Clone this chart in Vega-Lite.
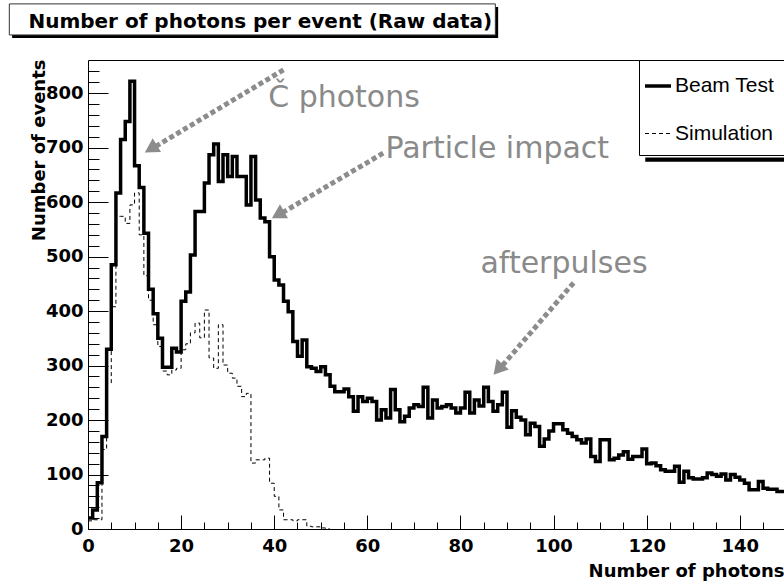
{
  "$schema": "https://vega.github.io/schema/vega-lite/v6.json",
  "autosize": {"type": "none"},
  "width": 696,
  "height": 469,
  "padding": {"left": 88, "top": 60, "right": 0, "bottom": 57},
  "background": "white",
  "view": {"stroke": null},
  "config": {
    "font": "DejaVu Sans",
    "axis": {"domainColor": "#000", "tickColor": "#000", "grid": false, "labelColor": "#000", "titleColor": "#000"}
  },
  "datasets": {
    "hist": [
      {"series": "Beam Test", "photons": 0, "events": 20},
      {"series": "Beam Test", "photons": 1, "events": 35},
      {"series": "Beam Test", "photons": 2, "events": 85},
      {"series": "Beam Test", "photons": 3, "events": 170},
      {"series": "Beam Test", "photons": 4, "events": 330},
      {"series": "Beam Test", "photons": 5, "events": 485},
      {"series": "Beam Test", "photons": 6, "events": 617},
      {"series": "Beam Test", "photons": 7, "events": 715},
      {"series": "Beam Test", "photons": 8, "events": 748},
      {"series": "Beam Test", "photons": 9, "events": 822},
      {"series": "Beam Test", "photons": 10, "events": 667},
      {"series": "Beam Test", "photons": 11, "events": 627},
      {"series": "Beam Test", "photons": 12, "events": 543},
      {"series": "Beam Test", "photons": 13, "events": 440},
      {"series": "Beam Test", "photons": 14, "events": 395},
      {"series": "Beam Test", "photons": 15, "events": 350},
      {"series": "Beam Test", "photons": 16, "events": 297},
      {"series": "Beam Test", "photons": 17, "events": 297},
      {"series": "Beam Test", "photons": 18, "events": 332},
      {"series": "Beam Test", "photons": 19, "events": 325},
      {"series": "Beam Test", "photons": 20, "events": 418},
      {"series": "Beam Test", "photons": 21, "events": 435},
      {"series": "Beam Test", "photons": 22, "events": 503},
      {"series": "Beam Test", "photons": 23, "events": 583},
      {"series": "Beam Test", "photons": 24, "events": 583},
      {"series": "Beam Test", "photons": 25, "events": 635},
      {"series": "Beam Test", "photons": 26, "events": 687},
      {"series": "Beam Test", "photons": 27, "events": 707},
      {"series": "Beam Test", "photons": 28, "events": 638},
      {"series": "Beam Test", "photons": 29, "events": 687},
      {"series": "Beam Test", "photons": 30, "events": 647},
      {"series": "Beam Test", "photons": 31, "events": 684},
      {"series": "Beam Test", "photons": 32, "events": 647},
      {"series": "Beam Test", "photons": 33, "events": 647},
      {"series": "Beam Test", "photons": 34, "events": 595},
      {"series": "Beam Test", "photons": 35, "events": 684},
      {"series": "Beam Test", "photons": 36, "events": 604},
      {"series": "Beam Test", "photons": 37, "events": 571},
      {"series": "Beam Test", "photons": 38, "events": 564},
      {"series": "Beam Test", "photons": 39, "events": 500},
      {"series": "Beam Test", "photons": 40, "events": 457},
      {"series": "Beam Test", "photons": 41, "events": 448},
      {"series": "Beam Test", "photons": 42, "events": 418},
      {"series": "Beam Test", "photons": 43, "events": 399},
      {"series": "Beam Test", "photons": 44, "events": 344},
      {"series": "Beam Test", "photons": 45, "events": 317},
      {"series": "Beam Test", "photons": 46, "events": 347},
      {"series": "Beam Test", "photons": 47, "events": 298},
      {"series": "Beam Test", "photons": 48, "events": 295},
      {"series": "Beam Test", "photons": 49, "events": 289},
      {"series": "Beam Test", "photons": 50, "events": 298},
      {"series": "Beam Test", "photons": 51, "events": 283},
      {"series": "Beam Test", "photons": 52, "events": 262},
      {"series": "Beam Test", "photons": 53, "events": 252},
      {"series": "Beam Test", "photons": 54, "events": 252},
      {"series": "Beam Test", "photons": 55, "events": 257},
      {"series": "Beam Test", "photons": 56, "events": 243},
      {"series": "Beam Test", "photons": 57, "events": 216},
      {"series": "Beam Test", "photons": 58, "events": 243},
      {"series": "Beam Test", "photons": 59, "events": 234},
      {"series": "Beam Test", "photons": 60, "events": 240},
      {"series": "Beam Test", "photons": 61, "events": 234},
      {"series": "Beam Test", "photons": 62, "events": 200},
      {"series": "Beam Test", "photons": 63, "events": 219},
      {"series": "Beam Test", "photons": 64, "events": 204},
      {"series": "Beam Test", "photons": 65, "events": 256},
      {"series": "Beam Test", "photons": 66, "events": 219},
      {"series": "Beam Test", "photons": 67, "events": 197},
      {"series": "Beam Test", "photons": 68, "events": 207},
      {"series": "Beam Test", "photons": 69, "events": 222},
      {"series": "Beam Test", "photons": 70, "events": 228},
      {"series": "Beam Test", "photons": 71, "events": 225},
      {"series": "Beam Test", "photons": 72, "events": 260},
      {"series": "Beam Test", "photons": 73, "events": 204},
      {"series": "Beam Test", "photons": 74, "events": 237},
      {"series": "Beam Test", "photons": 75, "events": 222},
      {"series": "Beam Test", "photons": 76, "events": 225},
      {"series": "Beam Test", "photons": 77, "events": 228},
      {"series": "Beam Test", "photons": 78, "events": 222},
      {"series": "Beam Test", "photons": 79, "events": 213},
      {"series": "Beam Test", "photons": 80, "events": 222},
      {"series": "Beam Test", "photons": 81, "events": 251},
      {"series": "Beam Test", "photons": 82, "events": 213},
      {"series": "Beam Test", "photons": 83, "events": 237},
      {"series": "Beam Test", "photons": 84, "events": 226},
      {"series": "Beam Test", "photons": 85, "events": 260},
      {"series": "Beam Test", "photons": 86, "events": 234},
      {"series": "Beam Test", "photons": 87, "events": 216},
      {"series": "Beam Test", "photons": 88, "events": 228},
      {"series": "Beam Test", "photons": 89, "events": 251},
      {"series": "Beam Test", "photons": 90, "events": 187},
      {"series": "Beam Test", "photons": 91, "events": 217},
      {"series": "Beam Test", "photons": 92, "events": 205},
      {"series": "Beam Test", "photons": 93, "events": 200},
      {"series": "Beam Test", "photons": 94, "events": 173},
      {"series": "Beam Test", "photons": 95, "events": 194},
      {"series": "Beam Test", "photons": 96, "events": 188},
      {"series": "Beam Test", "photons": 97, "events": 152},
      {"series": "Beam Test", "photons": 98, "events": 165},
      {"series": "Beam Test", "photons": 99, "events": 180},
      {"series": "Beam Test", "photons": 100, "events": 193},
      {"series": "Beam Test", "photons": 101, "events": 193},
      {"series": "Beam Test", "photons": 102, "events": 182},
      {"series": "Beam Test", "photons": 103, "events": 176},
      {"series": "Beam Test", "photons": 104, "events": 170},
      {"series": "Beam Test", "photons": 105, "events": 164},
      {"series": "Beam Test", "photons": 106, "events": 158},
      {"series": "Beam Test", "photons": 107, "events": 165},
      {"series": "Beam Test", "photons": 108, "events": 133},
      {"series": "Beam Test", "photons": 109, "events": 124},
      {"series": "Beam Test", "photons": 110, "events": 164},
      {"series": "Beam Test", "photons": 111, "events": 164},
      {"series": "Beam Test", "photons": 112, "events": 127},
      {"series": "Beam Test", "photons": 113, "events": 130},
      {"series": "Beam Test", "photons": 114, "events": 136},
      {"series": "Beam Test", "photons": 115, "events": 142},
      {"series": "Beam Test", "photons": 116, "events": 128},
      {"series": "Beam Test", "photons": 117, "events": 133},
      {"series": "Beam Test", "photons": 118, "events": 133},
      {"series": "Beam Test", "photons": 119, "events": 147},
      {"series": "Beam Test", "photons": 120, "events": 120},
      {"series": "Beam Test", "photons": 121, "events": 121},
      {"series": "Beam Test", "photons": 122, "events": 116},
      {"series": "Beam Test", "photons": 123, "events": 109},
      {"series": "Beam Test", "photons": 124, "events": 106},
      {"series": "Beam Test", "photons": 125, "events": 106},
      {"series": "Beam Test", "photons": 126, "events": 115},
      {"series": "Beam Test", "photons": 127, "events": 86},
      {"series": "Beam Test", "photons": 128, "events": 106},
      {"series": "Beam Test", "photons": 129, "events": 94},
      {"series": "Beam Test", "photons": 130, "events": 92},
      {"series": "Beam Test", "photons": 131, "events": 92},
      {"series": "Beam Test", "photons": 132, "events": 94},
      {"series": "Beam Test", "photons": 133, "events": 103},
      {"series": "Beam Test", "photons": 134, "events": 100},
      {"series": "Beam Test", "photons": 135, "events": 97},
      {"series": "Beam Test", "photons": 136, "events": 101},
      {"series": "Beam Test", "photons": 137, "events": 90},
      {"series": "Beam Test", "photons": 138, "events": 100},
      {"series": "Beam Test", "photons": 139, "events": 95},
      {"series": "Beam Test", "photons": 140, "events": 90},
      {"series": "Beam Test", "photons": 141, "events": 84},
      {"series": "Beam Test", "photons": 142, "events": 72},
      {"series": "Beam Test", "photons": 143, "events": 72},
      {"series": "Beam Test", "photons": 144, "events": 87},
      {"series": "Beam Test", "photons": 145, "events": 75},
      {"series": "Beam Test", "photons": 146, "events": 73},
      {"series": "Beam Test", "photons": 147, "events": 73},
      {"series": "Beam Test", "photons": 148, "events": 69},
      {"series": "Beam Test", "photons": 149, "events": 69},
      {"series": "Beam Test", "photons": 150, "events": 69},
      {"series": "Simulation", "photons": 0, "events": 15},
      {"series": "Simulation", "photons": 1, "events": 17},
      {"series": "Simulation", "photons": 2, "events": 17},
      {"series": "Simulation", "photons": 3, "events": 146},
      {"series": "Simulation", "photons": 4, "events": 268},
      {"series": "Simulation", "photons": 5, "events": 408},
      {"series": "Simulation", "photons": 6, "events": 574},
      {"series": "Simulation", "photons": 7, "events": 574},
      {"series": "Simulation", "photons": 8, "events": 561},
      {"series": "Simulation", "photons": 9, "events": 595},
      {"series": "Simulation", "photons": 10, "events": 617},
      {"series": "Simulation", "photons": 11, "events": 540},
      {"series": "Simulation", "photons": 12, "events": 465},
      {"series": "Simulation", "photons": 13, "events": 420},
      {"series": "Simulation", "photons": 14, "events": 375},
      {"series": "Simulation", "photons": 15, "events": 335},
      {"series": "Simulation", "photons": 16, "events": 290},
      {"series": "Simulation", "photons": 17, "events": 283},
      {"series": "Simulation", "photons": 18, "events": 292},
      {"series": "Simulation", "photons": 19, "events": 295},
      {"series": "Simulation", "photons": 20, "events": 329},
      {"series": "Simulation", "photons": 21, "events": 340},
      {"series": "Simulation", "photons": 22, "events": 360},
      {"series": "Simulation", "photons": 23, "events": 378},
      {"series": "Simulation", "photons": 24, "events": 351},
      {"series": "Simulation", "photons": 25, "events": 402},
      {"series": "Simulation", "photons": 26, "events": 314},
      {"series": "Simulation", "photons": 27, "events": 295},
      {"series": "Simulation", "photons": 28, "events": 375},
      {"series": "Simulation", "photons": 29, "events": 301},
      {"series": "Simulation", "photons": 30, "events": 286},
      {"series": "Simulation", "photons": 31, "events": 277},
      {"series": "Simulation", "photons": 32, "events": 262},
      {"series": "Simulation", "photons": 33, "events": 243},
      {"series": "Simulation", "photons": 34, "events": 249},
      {"series": "Simulation", "photons": 35, "events": 121},
      {"series": "Simulation", "photons": 36, "events": 127},
      {"series": "Simulation", "photons": 37, "events": 127},
      {"series": "Simulation", "photons": 38, "events": 130},
      {"series": "Simulation", "photons": 39, "events": 84},
      {"series": "Simulation", "photons": 40, "events": 60},
      {"series": "Simulation", "photons": 41, "events": 35},
      {"series": "Simulation", "photons": 42, "events": 17},
      {"series": "Simulation", "photons": 43, "events": 17},
      {"series": "Simulation", "photons": 44, "events": 15},
      {"series": "Simulation", "photons": 45, "events": 17},
      {"series": "Simulation", "photons": 46, "events": 17},
      {"series": "Simulation", "photons": 47, "events": 5},
      {"series": "Simulation", "photons": 48, "events": 4},
      {"series": "Simulation", "photons": 49, "events": 4},
      {"series": "Simulation", "photons": 50, "events": 2},
      {"series": "Simulation", "photons": 51, "events": 0},
      {"series": "Simulation", "photons": 52, "events": 0}
    ],
    "notes": [
      {"label": "Č photons", "x": 38.7, "y": 775},
      {"label": "Particle impact", "x": 63.9, "y": 681},
      {"label": "afterpulses", "x": 84.3, "y": 470}
    ],
    "arrows": [
      {"x": 42.0, "y": 843, "x2": 13.5, "y2": 697},
      {"x": 63.4, "y": 690, "x2": 40.8, "y2": 576},
      {"x": 104.3, "y": 452, "x2": 88.2, "y2": 292}
    ]
  },
  "layer": [
    {
      "data": {"name": "hist"},
      "mark": {"type": "line", "interpolate": "step-after", "color": "#000", "clip": true},
      "encoding": {
        "x": {"field": "photons", "type": "quantitative", "scale": {"domain": [0, 149.5], "nice": false, "zero": false},
              "axis": {"orient": "bottom", "values": [0, 20, 40, 60, 80, 100, 120, 140], "tickSize": -14, "labelPadding": 22,
                       "labelFont": "DejaVu Sans", "labelFontWeight": "bold", "labelFontSize": 18, "labelFlush": false, "labelBaseline": "top",
                       "title": "Number of photons", "titleFont": "DejaVu Sans", "titleFontWeight": "bold", "titleFontSize": 18,
                       "titleX": 696, "titleY": 47, "titleAlign": "right", "titleBaseline": "alphabetic", "domainWidth": 1}},
        "y": {"field": "events", "type": "quantitative", "scale": {"domain": [0, 861], "nice": false},
              "axis": {"orient": "left", "values": [0, 100, 200, 300, 400, 500, 600, 700, 800], "tickSize": -20, "labelPadding": 25,
                       "labelFont": "DejaVu Sans", "labelFontWeight": "bold", "labelFontSize": 18, "labelFlush": false,
                       "title": "Number of events", "titleFont": "DejaVu Sans", "titleFontWeight": "bold", "titleFontSize": 18,
                       "titleX": -44, "titleY": -1, "titleAngle": -90, "titleAlign": "right", "titleBaseline": "alphabetic", "domainWidth": 1}},
        "strokeDash": {"field": "series", "type": "nominal", "scale": {"domain": ["Beam Test", "Simulation"], "range": [[1, 0], [4, 3]]},
                       "legend": {"title": null, "orient": "none", "legendX": 551, "legendY": 0, "symbolType": "stroke", "symbolSize": 676,
                                  "symbolStrokeColor": "#000", "labelFont": "Liberation Sans", "labelFontSize": 21, "labelColor": "#000",
                                  "padding": 11, "rowPadding": 24, "labelOffset": 2, "symbolOffset": -7, "labelLimit": 400,
                                  "labelExpr": "datum.label + '            '",
                                  "fillColor": "white", "strokeColor": "#000"}},
        "strokeWidth": {"field": "series", "type": "nominal", "scale": {"domain": ["Beam Test", "Simulation"], "range": [3.5, 1]},
                       "legend": {"title": null, "orient": "none", "legendX": 551, "legendY": 0, "symbolType": "stroke", "symbolSize": 676,
                                  "symbolStrokeColor": "#000", "labelFont": "Liberation Sans", "labelFontSize": 21, "labelColor": "#000",
                                  "padding": 11, "rowPadding": 24, "labelOffset": 2, "symbolOffset": -7, "labelLimit": 400,
                                  "labelExpr": "datum.label + '            '",
                                  "fillColor": "white", "strokeColor": "#000"}}
      }
    },
    {
      "data": {"name": "hist"},
      "mark": {"type": "line", "opacity": 0},
      "encoding": {
        "x": {"field": "photons", "type": "quantitative", "scale": {"domain": [0, 149.5], "nice": false, "zero": false},
              "axis": {"orient": "bottom", "values": [5, 10, 15, 25, 30, 35, 45, 50, 55, 65, 70, 75, 85, 90, 95, 105, 110, 115, 125, 130, 135, 145],
                       "tickSize": -7, "labels": false, "title": null, "domain": false}},
        "y": {"field": "events", "type": "quantitative", "scale": {"domain": [0, 861], "nice": false},
              "axis": {"orient": "left", "values": [20, 40, 60, 80, 120, 140, 160, 180, 220, 240, 260, 280, 320, 340, 360, 380, 420, 440, 460, 480, 520, 540, 560, 580, 620, 640, 660, 680, 720, 740, 760, 780, 820, 840],
                       "tickSize": -11, "labels": false, "title": null, "domain": false}}
      }
    },
    {
      "data": {"name": "hist"},
      "mark": {"type": "line", "opacity": 0},
      "encoding": {
        "x": {"field": "photons", "type": "quantitative", "scale": {"domain": [0, 149.5], "nice": false, "zero": false},
              "axis": {"orient": "top", "ticks": false, "labels": false, "title": null, "domain": true, "domainWidth": 1}},
        "y": {"field": "events", "type": "quantitative", "scale": {"domain": [0, 861], "nice": false}, "axis": null}
      }
    },
    {
      "data": {"values": [{}]},
      "mark": {"type": "rect", "color": "#000", "clip": false},
      "encoding": {
        "x": {"datum": -16.3, "type": "quantitative", "scale": {"domain": [0, 149.5], "nice": false, "zero": false}, "axis": null},
        "x2": {"datum": 88.1},
        "y": {"datum": 958.5, "type": "quantitative", "scale": {"domain": [0, 861], "nice": false}, "axis": null},
        "y2": {"datum": 901.5}
      }
    },
    {
      "data": {"values": [{}]},
      "mark": {"type": "rect", "fill": "white", "stroke": "#333", "strokeWidth": 1, "clip": false},
      "encoding": {
        "x": {"datum": -16.9, "type": "quantitative", "scale": {"domain": [0, 149.5], "nice": false, "zero": false}, "axis": null},
        "x2": {"datum": 87.5},
        "y": {"datum": 964, "type": "quantitative", "scale": {"domain": [0, 861], "nice": false}, "axis": null},
        "y2": {"datum": 907}
      }
    },
    {
      "data": {"values": [{"text": "Number of photons per event (Raw data)"}]},
      "mark": {"type": "text", "align": "left", "baseline": "alphabetic", "font": "DejaVu Sans", "fontWeight": "bold", "fontSize": 20, "color": "#000", "clip": false},
      "encoding": {
        "x": {"datum": -12.8, "type": "quantitative", "scale": {"domain": [0, 149.5], "nice": false, "zero": false}, "axis": null},
        "y": {"datum": 920, "type": "quantitative", "scale": {"domain": [0, 861], "nice": false}, "axis": null},
        "text": {"field": "text"}
      }
    },
    {
      "data": {"values": [{}]},
      "mark": {"type": "rect", "color": "#000", "clip": false},
      "encoding": {
        "x": {"datum": 119.7, "type": "quantitative", "scale": {"domain": [0, 149.5], "nice": false, "zero": false}, "axis": null},
        "x2": {"datum": 152},
        "y": {"datum": 682, "type": "quantitative", "scale": {"domain": [0, 861], "nice": false}, "axis": null},
        "y2": {"datum": 674}
      }
    },
    {
      "data": {"name": "arrows"},
      "mark": {"type": "rule", "color": "#8c8c8c", "strokeWidth": 5, "strokeDash": [5, 3], "clip": false},
      "encoding": {
        "x": {"field": "x", "type": "quantitative", "scale": {"domain": [0, 149.5], "nice": false, "zero": false}, "axis": null},
        "x2": {"field": "x2"},
        "y": {"field": "y", "type": "quantitative", "scale": {"domain": [0, 861], "nice": false}, "axis": null},
        "y2": {"field": "y2"}
      }
    },
    {
      "data": {"values": [{"x": 13.5, "y": 698}]},
      "mark": {"type": "point", "shape": "triangle-up", "filled": true, "color": "#8c8c8c", "opacity": 1, "size": 260, "angle": 239},
      "encoding": {
        "x": {"field": "x", "type": "quantitative", "scale": {"domain": [0, 149.5], "nice": false, "zero": false}, "axis": null},
        "y": {"field": "y", "type": "quantitative", "scale": {"domain": [0, 861], "nice": false}, "axis": null}
      }
    },
    {
      "data": {"values": [{"x": 40.8, "y": 577}]},
      "mark": {"type": "point", "shape": "triangle-up", "filled": true, "color": "#8c8c8c", "opacity": 1, "size": 260, "angle": 240},
      "encoding": {
        "x": {"field": "x", "type": "quantitative", "scale": {"domain": [0, 149.5], "nice": false, "zero": false}, "axis": null},
        "y": {"field": "y", "type": "quantitative", "scale": {"domain": [0, 861], "nice": false}, "axis": null}
      }
    },
    {
      "data": {"values": [{"x": 88.1, "y": 293}]},
      "mark": {"type": "point", "shape": "triangle-up", "filled": true, "color": "#8c8c8c", "opacity": 1, "size": 260, "angle": 221},
      "encoding": {
        "x": {"field": "x", "type": "quantitative", "scale": {"domain": [0, 149.5], "nice": false, "zero": false}, "axis": null},
        "y": {"field": "y", "type": "quantitative", "scale": {"domain": [0, 861], "nice": false}, "axis": null}
      }
    },
    {
      "data": {"name": "notes"},
      "mark": {"type": "text", "align": "left", "baseline": "alphabetic", "font": "DejaVu Sans", "fontSize": 30, "color": "#8a8a8a", "clip": false},
      "encoding": {
        "x": {"field": "x", "type": "quantitative", "scale": {"domain": [0, 149.5], "nice": false, "zero": false}, "axis": null},
        "y": {"field": "y", "type": "quantitative", "scale": {"domain": [0, 861], "nice": false}, "axis": null},
        "text": {"field": "label"}
      }
    }
  ],
  "resolve": {"scale": {"x": "shared", "y": "shared"}, "axis": {"x": "independent", "y": "independent"}}
}
